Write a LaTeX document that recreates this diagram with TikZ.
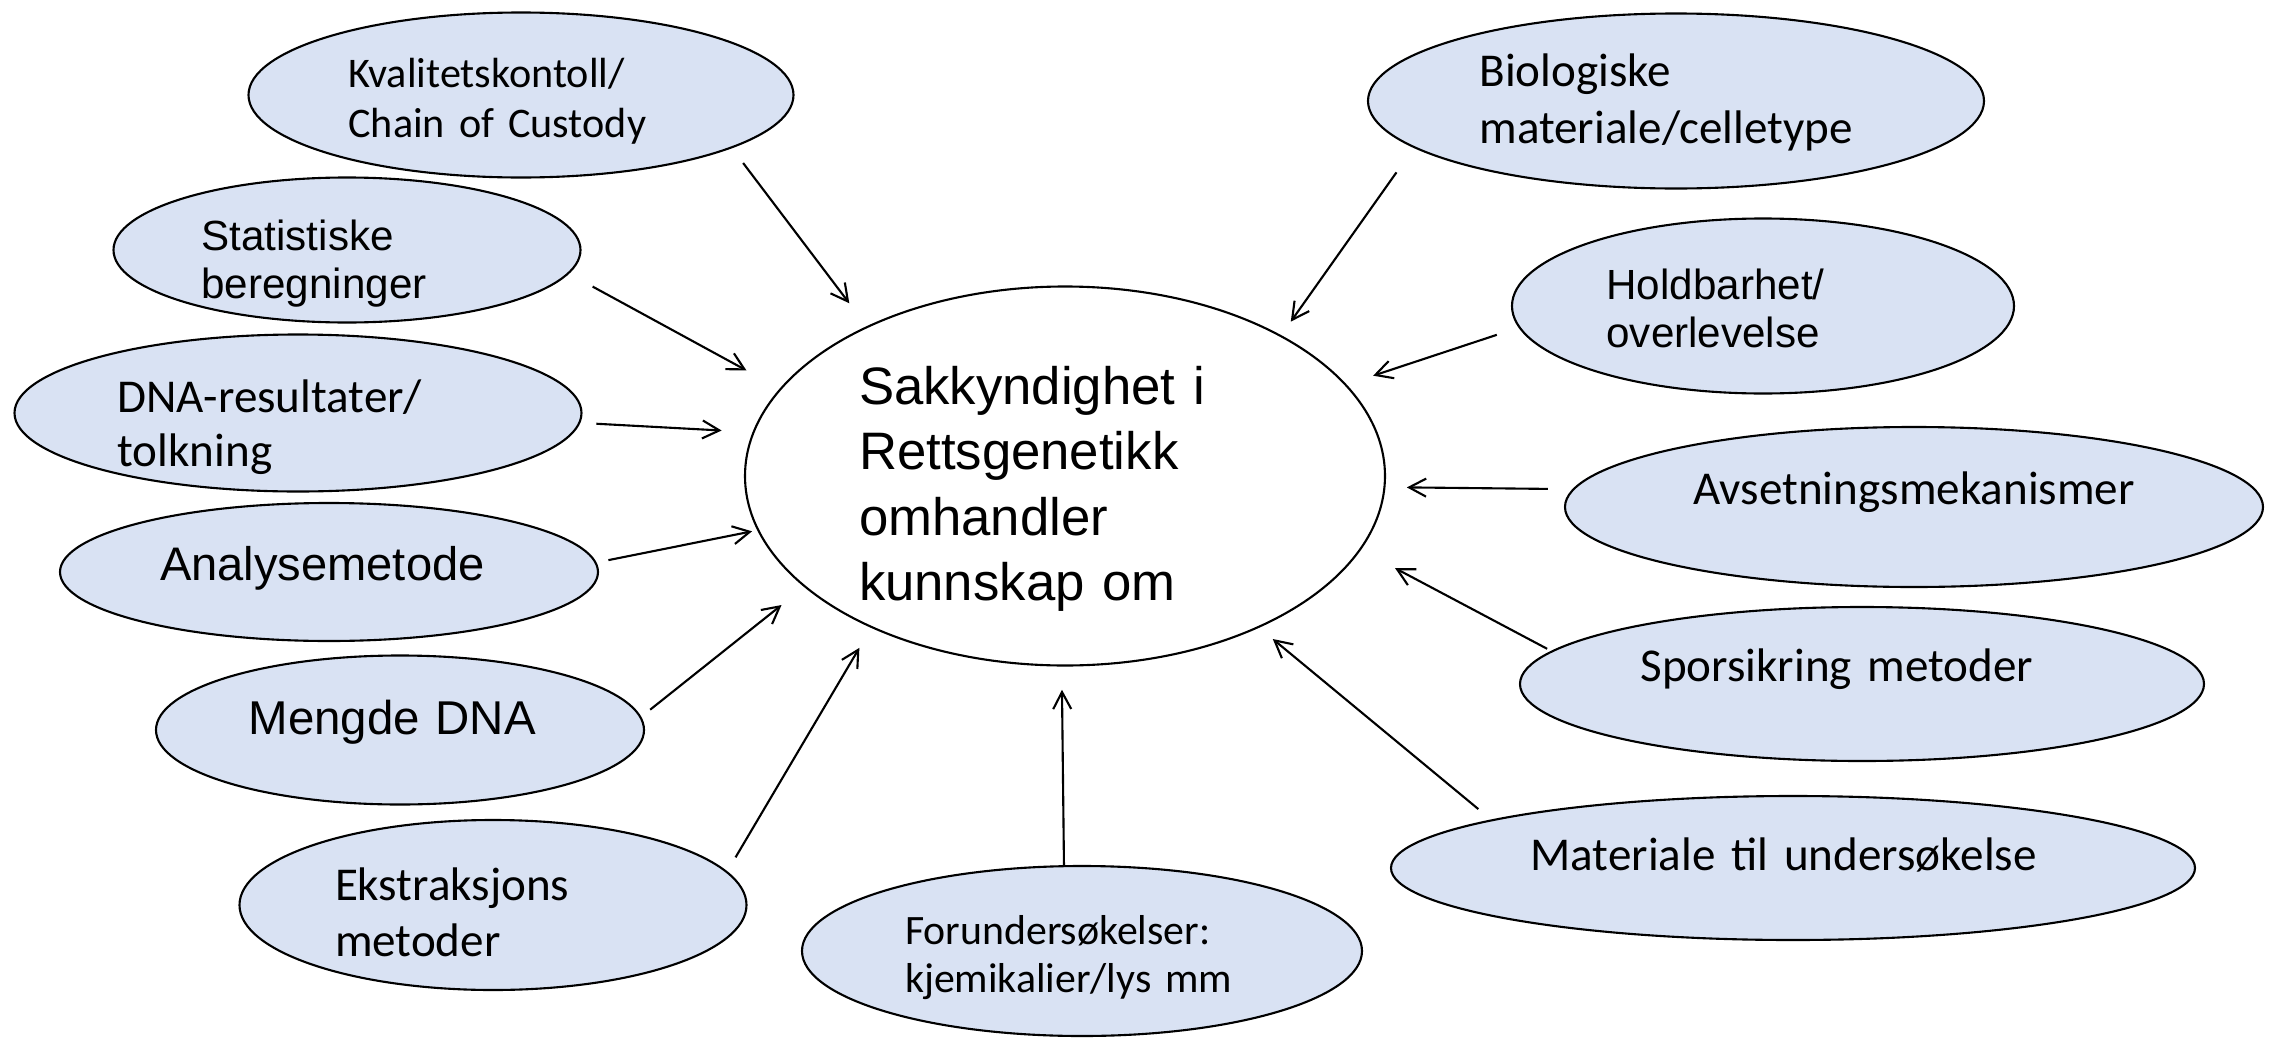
\documentclass[tikz,border=0pt]{standalone}
\usepackage{fontspec}
\setmainfont{Carlito}
\newfontfamily\arialsf{Liberation Sans}
\usetikzlibrary{arrows.meta,shapes.geometric}
\definecolor{topicfill}{HTML}{D9E2F3}
\hyphenpenalty=10000
\exhyphenpenalty=10000
\newcommand{\calib}[2]{\fontsize{#1}{#2}\selectfont}
\newcommand{\arl}[2]{\arialsf\fontsize{#1}{#2}\selectfont}
\tikzset{
    every edge/.style={draw,-{Straight Barb[length=1.7mm,width=1.8mm]},line width=0.6pt},
    blob/.style={ellipse,draw,line width=0.6pt,inner sep=0pt,outer sep=0pt,align=left},
    topic/.style={blob,fill=topicfill},
    core/.style={blob,fill=white},
    lift/.style={text height=0pt,text depth=#1},
    drop/.style={text depth=0pt,text height=#1},
}

\begin{document}
\begin{tikzpicture}
    \useasboundingbox (0,0) rectangle (22.71,10.38);

    % centre
    \node[core,minimum width=6.40cm,minimum height=3.79cm,text width=4.12cm,lift=1.43cm,font=\arl{15}{18.6}]
        (sak) at (10.65,5.62) {Sakkyndighet i\\Rettsgenetikk\\omhandler\\kunnskap om};

    % left side
    \node[topic,minimum width=5.45cm,minimum height=1.65cm,text width=3.45cm,lift=0.15cm,font=\calib{12}{14.2}]
        (kval) at (5.21,9.43) {Kvalitetskontoll/\\Chain of Custody};
    \node[topic,minimum width=4.67cm,minimum height=1.45cm,text width=2.91cm,lift=0pt,font=\arl{12}{13.8}]
        (stat) at (3.47,7.88) {Statistiske\\beregninger};
    \node[topic,minimum width=5.67cm,minimum height=1.57cm,text width=3.61cm,lift=0.02cm,font=\calib{13.4}{15.6}]
        (dna) at (2.98,6.25) {DNA-resultater/\\tolkning};
    \node[topic,minimum width=5.38cm,minimum height=1.38cm,text width=3.38cm,drop=0.17cm,font=\arl{13.4}{16}]
        (analyse) at (3.29,4.66) {Analysemetode};
    \node[topic,minimum width=4.88cm,minimum height=1.49cm,text width=3.03cm,drop=0.09cm,font=\arl{13.5}{16}]
        (mengde) at (4.00,3.08) {Mengde DNA};
    \node[topic,minimum width=5.07cm,minimum height=1.70cm,text width=3.16cm,lift=0.10cm,font=\calib{13.4}{16.2}]
        (ekstr) at (4.93,1.33) {Ekstraksjons\\metoder};

    % bottom
    \node[topic,minimum width=5.60cm,minimum height=1.70cm,text width=3.54cm,lift=0.14cm,font=\calib{11.9}{13.8}]
        (foru) at (10.82,0.87) {Forundersøkelser:\\kjemikalier/lys mm};

    % right side
    \node[topic,minimum width=6.16cm,minimum height=1.75cm,text width=3.93cm,lift=0.29cm,font=\calib{13.4}{16.2}]
        (bio) at (16.76,9.37) {Biologiske\\materiale/celletype};
    \node[topic,minimum width=5.02cm,minimum height=1.75cm,text width=3.13cm,lift=0.14cm,font=\arl{12}{13.8}]
        (hold) at (17.63,7.32) {Holdbarhet/\\overlevelse};
    \node[topic,minimum width=6.98cm,minimum height=1.60cm,lift=0.05cm,font=\calib{13.4}{16}]
        (avset) at (19.14,5.31) {Avsetningsmekanismer};
    \node[topic,minimum width=6.84cm,minimum height=1.54cm,text width=4.43cm,lift=0.05cm,font=\calib{13.4}{16}]
        (spor) at (18.62,3.54) {Sporsikring metoder};
    \node[topic,minimum width=8.04cm,minimum height=1.44cm,text width=5.25cm,drop=0.04cm,font=\calib{13.4}{16}]
        (mat) at (17.93,1.70) {Materiale til undersøkelse};

    \path
    (kval.-14.75)    edge[shorten <=1.95mm,shorten >=2.98mm] (sak.143.85)
    (stat.-6.5)      edge[shorten <=2.79mm,shorten >=3.89mm] (sak.163.45)
    (dna.-2.87)      edge[shorten <=1.72mm,shorten >=3.21mm] (sak.172.58)
    (analyse.2.97)   edge[shorten <=1.31mm,shorten >=0.64mm] (sak.190.63)
    (mengde.3.94)    edge[shorten <=1.24mm,shorten >=2.99mm] (sak.203.53)
    (ekstr.8.87)     edge[shorten <=1.72mm,shorten >=2.42mm] (sak.218.79)
    (foru.102.44)    edge[shorten <=0.1mm,shorten >=2.43mm]  (sak.269.49)
    (mat.171.76)     edge[shorten <=1.76mm,shorten >=1.88mm] (sak.-38.48)
    (spor.174.08)    edge[shorten <=0.56mm,shorten >=3.98mm] (sak.-14.75)
    (avset.177.23)   edge[shorten <=2.60mm,shorten >=2.24mm] (sak.-2.60)
    (hold.185.14)    edge[shorten <=2.40mm,shorten >=2.91mm] (sak.18.88)
    (bio.190.41)     edge[shorten <=3.09mm,shorten >=1.76mm] (sak.33.16);
\end{tikzpicture}
\end{document}
